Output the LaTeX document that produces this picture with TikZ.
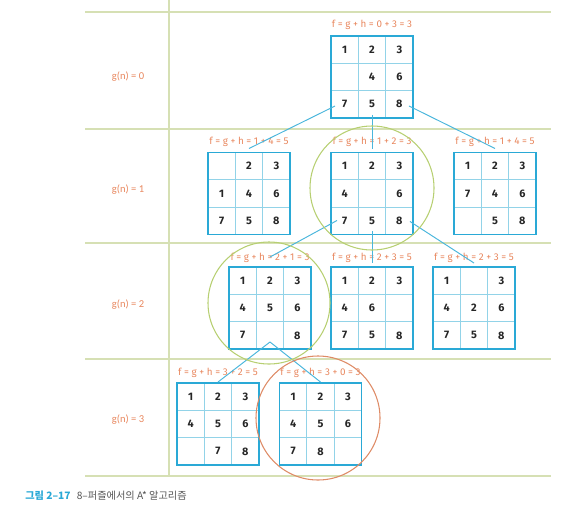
\documentclass[tikz,border=0pt]{standalone}
\usepackage{fontspec}
\setmainfont{Fira Sans}
\newfontfamily\krfont{Noto Sans CJK KR}
\newfontfamily\calfont{Carlito}
\usetikzlibrary{calc}
\definecolor{pzcyan}{HTML}{2AA9D6}
\definecolor{pzpale}{HTML}{92D3E8}
\definecolor{pzrule}{HTML}{D6E0B4}
\definecolor{pzorange}{HTML}{E8875E}
\definecolor{pzgreen}{HTML}{B7CF72}
\definecolor{pzred}{HTML}{DE8B66}
\definecolor{pzgrey}{HTML}{555555}

\tikzset{
  rule/.style={draw=pzrule, line width=0.9pt},
  cellline/.style={draw=pzpale, line width=0.6pt},
  gridbox/.style={draw=pzcyan, line width=1.1pt, minimum size=1.64cm, inner sep=0pt, outer sep=0pt},
  tile/.style={font=\fontsize{6.2}{7}\selectfont\bfseries, text=black!85, inner sep=0pt},
  flabel/.style={font=\fontsize{5.6}{6}\selectfont, text=pzorange, inner sep=1pt},
  glabel/.style={font=\calfont\fontsize{6}{7}\selectfont, text=pzorange},
  link/.style={draw=pzcyan!85, line width=0.55pt},
  hilite/.style={line width=0.6pt},
}

% one 3x3 board: name, centre x, centre y, nine tiles (0 = blank)
\newcommand{\puzzle}[4]{%
  \foreach \k in {1,2} {
    \draw[cellline] (#2-41+\k*27.33,#3-41) -- ++(0,82);
    \draw[cellline] (#2-41,#3-41+\k*27.33) -- ++(82,0);
  }
  \node[gridbox] (#1) at (#2,#3) {};
  \foreach \v [count=\i from 0] in {#4} {
    \pgfmathtruncatemacro{\cx}{mod(\i,3)}
    \pgfmathtruncatemacro{\cy}{div(\i,3)}
    \ifnum\v>0 \node[tile] (#1-\i) at (#2-27.33+\cx*27.33,#3-27.33+\cy*27.33) {\v};\fi
  }
}

\begin{document}
\begin{tikzpicture}[x=0.02cm, y=-0.02cm]
  \useasboundingbox (0,0) rectangle (581,507);

  % level rules
  \foreach \y in {12,129,243,359,476} \draw[rule] (85,\y) -- (551,\y);
  \draw[rule, line width=0.6pt] (169,0) -- (169,476);
  \node[glabel] (g0) at (128,77) {g(n) = 0};
  \node[glabel] (g1) at (128,190) {g(n) = 1};
  \node[glabel] (g2) at (128,305) {g(n) = 2};
  \node[glabel] (g3) at (128,420) {g(n) = 3};

  % boards
  \puzzle{p0}{372}{77}{1,2,3,0,4,6,7,5,8}
  \puzzle{p1a}{249}{193.5}{0,2,3,1,4,6,7,5,8}
  \puzzle{p1b}{372}{193.5}{1,2,3,4,0,6,7,5,8}
  \puzzle{p1c}{495}{193.5}{1,2,3,7,4,6,0,5,8}
  \puzzle{p2a}{270}{308}{1,2,3,4,5,6,7,0,8}
  \puzzle{p2b}{372}{308}{1,2,3,4,6,0,7,5,8}
  \puzzle{p2c}{474}{308}{1,0,3,4,2,6,7,5,8}
  \puzzle{p3a}{218}{424}{1,2,3,4,5,6,0,7,8}
  \puzzle{p3b}{320.5}{424}{1,2,3,4,5,6,7,8,0}

  % costs
  \node[flabel] (l0) at (372,25) {f = g + h = 0 + 3 = 3};
  \node[flabel] (l1a) at (249,142) {f = g + h = 1 + 4 = 5};
  \node[flabel] (l1b) at (372,142) {f = g + h = 1 + 2 = 3};
  \node[flabel] (l1c) at (495,142) {f = g + h = 1 + 4 = 5};
  \node[flabel] (l2a) at (270,258) {f = g + h = 2 + 1 = 3};
  \node[flabel] (l2b) at (372,258) {f = g + h = 2 + 3 = 5};
  \node[flabel] (l2c) at (474,258) {f = g + h = 2 + 3 = 5};
  \node[flabel] (l3a) at (218,373) {f = g + h = 3 + 2 = 5};
  \node[flabel] (l3b) at (320.5,373) {f = g + h = 3 + 0 = 3};

  % expansions
  \draw[link] ([shift={(4,-12)}]p0.south west) -- ([shift={(0,-4)}]p1a.north);
  \draw[link] ([shift={(0,-3)}]p0.south) -- ([shift={(0,-4)}]p1b.north);
  \draw[link] ([shift={(-4,-12)}]p0.south east) -- ([shift={(0,-4)}]p1c.north);
  \draw[link] ([shift={(6,-14)}]p1b.south west) -- ([shift={(0,-10)}]p2a.north);
  \draw[link] ([shift={(0,-3)}]p1b.south) -- ([shift={(0,-4)}]p2b.north);
  \draw[link] ([shift={(-3,-13)}]p1b.south east) -- ([shift={(0,-4)}]p2c.north);
  \draw[link] ([shift={(0,-7)}]p2a.south) -- ([shift={(0,-1)}]p3a.north);
  \draw[link] ([shift={(0,-7)}]p2a.south) -- ([shift={(0,-1)}]p3b.north);

  % chosen nodes
  \draw[hilite, draw=pzgreen] (372,188) circle[radius=62];
  \draw[hilite, draw=pzgreen] (269,303) circle[radius=61];
  \draw[hilite, draw=pzred] (318,418) circle[radius=62];

  % caption
  \node[anchor=west, inner sep=0pt, font=\krfont\fontsize{5.8}{7}\selectfont] (cap) at (25,496)
    {{\bfseries\color{pzcyan}그림 2–17}\hspace{0.6em}{\color{pzgrey}8–퍼즐에서의 A* 알고리즘}};
\end{tikzpicture}
\end{document}
